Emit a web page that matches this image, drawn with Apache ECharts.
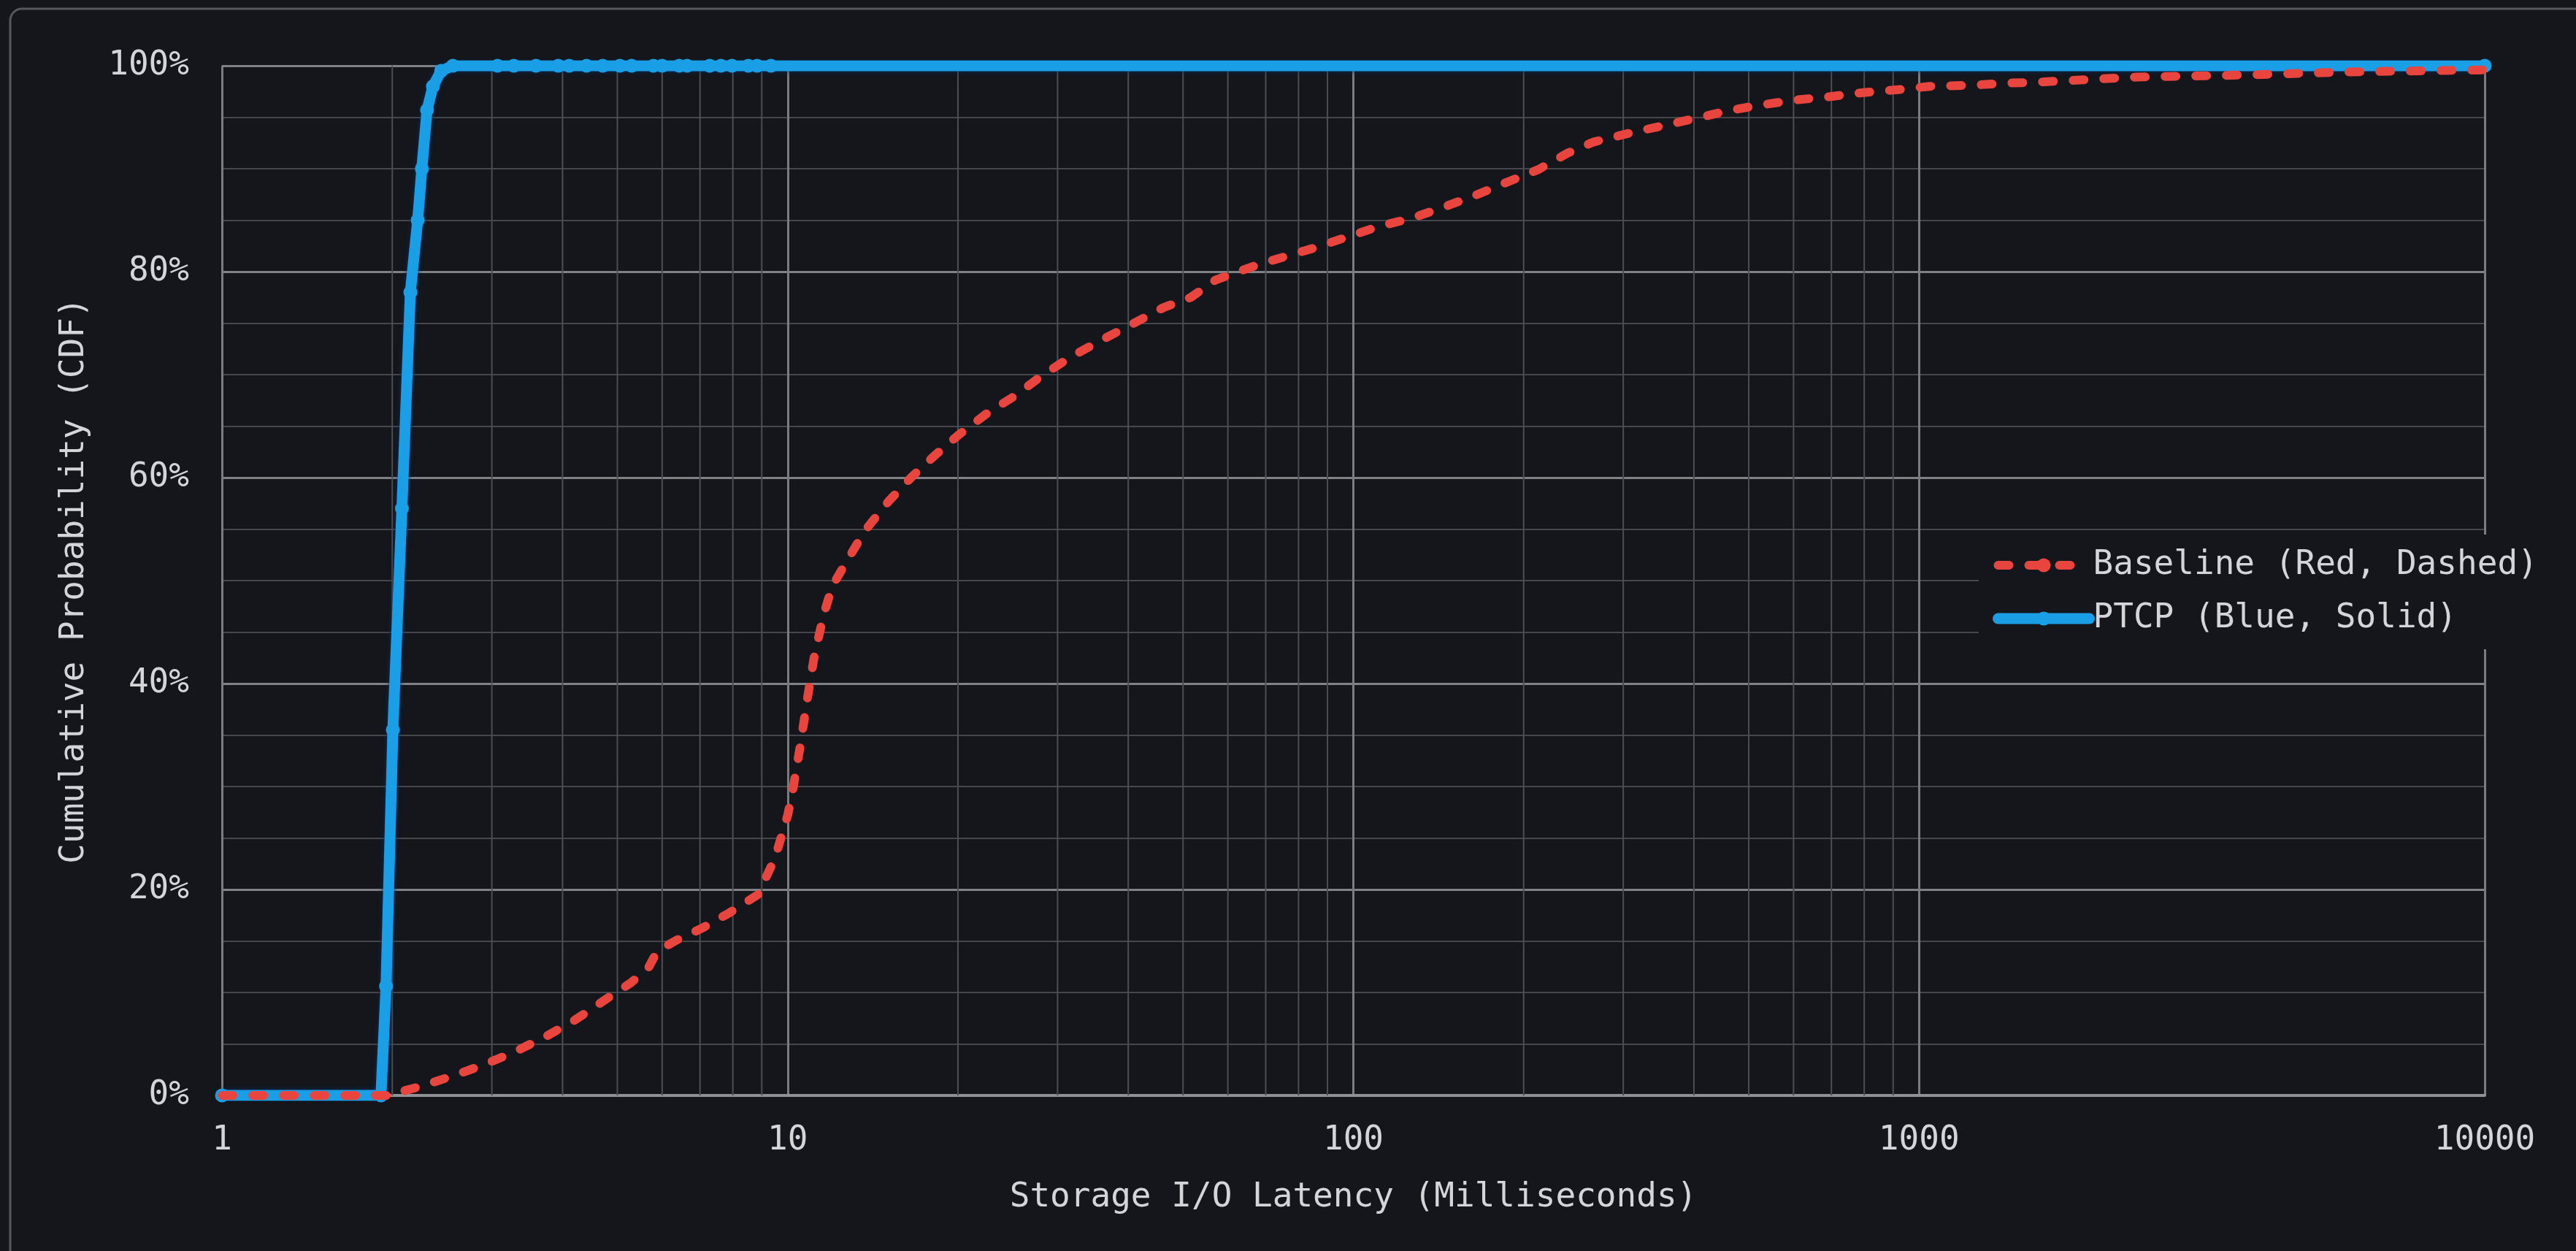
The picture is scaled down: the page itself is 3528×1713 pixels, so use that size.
<!DOCTYPE html>
<html>
<head>
<meta charset="utf-8">
<script src="https://cdn.jsdelivr.net/npm/echarts@6/dist/echarts.min.js"></script>
<style>
html,body{margin:0;padding:0;background:#14161b;}
#chart{width:3528px;height:1713px;}
</style>
</head>
<body>
<div id="chart"></div>
<script>
// ---- data ----
const seriesNames = ['Baseline (Red, Dashed)', 'PTCP (Blue, Solid)'];
const axisNames = ['Storage I/O Latency (Milliseconds)', 'Cumulative Probability (CDF)'];

const baselineLatencyMs = [1, 2.0, 2.02, 2.25, 2.56, 2.91, 3.31, 3.73, 4.2, 4.73,
  5.27, 5.66, 5.88, 6.37, 7.09, 7.87, 8.86, 9.49, 10.0, 10.2,
  10.53, 10.81, 11.14, 11.58, 12.0, 12.85, 13.72, 15.08, 16.59, 18.24,
  20.0, 22.46, 25.15, 28.15, 31.6, 36.0, 40.3, 46.1, 51.6, 57.1,
  67.2, 76, 85.3, 95.5, 111, 127, 145, 164, 189, 212,
  239, 266, 310, 361, 411, 457, 526, 612, 697, 800,
  930, 1045, 1234, 1410, 1613, 2423, 3738, 5771, 10000];
const baselineCdfPct = [0, 0, 0.2, 0.9, 1.9, 3.0, 4.3, 5.7, 7.3, 9.2,
  10.9, 12.3, 14.0, 15.1, 16.3, 17.7, 19.5, 23, 27.2, 29.5,
  34, 38.2, 42.6, 46.7, 49.5, 52.3, 54.9, 57.7, 60.1, 62.2,
  64.1, 66.2, 67.9, 69.9, 71.7, 73.4, 74.8, 76.5, 77.5, 79.2,
  80.6, 81.5, 82.3, 83.2, 84.4, 85.2, 86.3, 87.4, 88.8, 89.9,
  91.5, 92.6, 93.5, 94.3, 95.0, 95.6, 96.2, 96.7, 97.0, 97.4,
  97.7, 98.0, 98.1, 98.3, 98.4, 98.9, 99.1, 99.4, 99.6];

const ptcpLatencyMs = [1, 1.91, 1.95, 2.005, 2.08, 2.153, 2.218, 2.256, 2.304, 2.36,
  2.44, 2.56, 3.07, 3.28, 3.59, 3.93, 4.11, 4.41, 4.71, 5.05,
  5.3, 5.79, 6.0, 6.43, 6.64, 7.28, 7.62, 7.97, 8.52, 8.83,
  9.34, 10000];
const ptcpCdfPct = [0, 0, 10.6, 35.5, 57, 78, 85, 90, 95.7, 98,
  99.5, 100, 100, 100, 100, 100, 100, 100, 100, 100,
  100, 100, 100, 100, 100, 100, 100, 100, 100, 100,
  100, 100];

// minor vertical grid values of the log axis (no minor lines in the last decade)
const minorLatencyGrid = [2, 3, 4, 5, 6, 7, 8, 9, 20, 30, 40, 50, 60, 70, 80, 90,
  200, 300, 400, 500, 600, 700, 800, 900];
const yTickPct = { min: 0, max: 100, interval: 20 };

// ---- build ----
const FONT = 'DejaVu Sans Mono';
const TEXT = '#d4d5d8';
const RED = '#e8453f';
const BLUE = '#1a9fe6';
const pair = (xs, ys) => xs.map((x, i) => [x, ys[i]]);
const minorGridData = [];
minorLatencyGrid.forEach(v => { minorGridData.push([v, yTickPct.min], [v, yTickPct.max], [v, '-']); });

const redLine = { color: RED, width: 12, type: [15, 27], cap: 'round', join: 'round' };
const blueLine = { color: BLUE, width: 15, type: 'solid', cap: 'round', join: 'round',
  shadowColor: 'rgba(0,50,110,0.9)', shadowBlur: 6 };

const chart = echarts.init(document.getElementById('chart'), null, { renderer: 'canvas' });
chart.setOption({
  animation: false,
  backgroundColor: '#14161b',
  graphic: [{
    type: 'rect', silent: true, z: -10,
    shape: { x: 14, y: 12, width: 3700, height: 1900, r: 16 },
    style: { fill: 'none', stroke: '#55585d', lineWidth: 3 }
  }],
  grid: { left: 304, right: 125, top: 90, bottom: 213, containLabel: false, outerBoundsMode: 'none' },
  legend: {
    data: [
      { name: seriesNames[0], lineStyle: { width: 12, type: [15, 27], cap: 'round', color: RED },
        itemStyle: { color: RED } },
      { name: seriesNames[1], lineStyle: { width: 15, type: 'solid', cap: 'round', color: BLUE },
        itemStyle: { color: BLUE } }
    ],
    orient: 'vertical',
    left: 2710, top: 732,
    backgroundColor: '#14161b',
    padding: [19, 22, 19, 19],
    itemWidth: 125, itemHeight: 24, itemGap: 27,
    textStyle: { color: TEXT, fontSize: 46, fontFamily: FONT },
    selectedMode: false
  },
  xAxis: {
    type: 'log', logBase: 10, min: 1, max: 10000,
    name: axisNames[0], nameLocation: 'middle', nameGap: 117,
    nameTextStyle: { color: TEXT, fontSize: 46, fontFamily: FONT },
    axisLine: { show: true, lineStyle: { color: '#8f9195', width: 4 } },
    axisTick: { show: false },
    axisLabel: { color: TEXT, fontSize: 46, fontFamily: FONT, margin: 39,
      formatter: v => String(Math.round(v)) },
    splitLine: { show: true, lineStyle: { color: '#7a7c80', width: 3 } },
    minorSplitLine: { show: false }
  },
  yAxis: {
    type: 'value', min: yTickPct.min, max: yTickPct.max, interval: yTickPct.interval,
    name: axisNames[1], nameLocation: 'middle', nameGap: 179,
    nameTextStyle: { color: TEXT, fontSize: 46, fontFamily: FONT },
    axisLine: { show: false },
    axisTick: { show: false },
    axisLabel: { color: TEXT, fontSize: 46, fontFamily: FONT, margin: 45, formatter: '{value}%' },
    splitLine: { show: true, lineStyle: { color: '#808286', width: 3 } },
    minorTick: { show: false, splitNumber: 4 },
    minorSplitLine: { show: true, lineStyle: { color: '#44474c', width: 2 } }
  },
  series: [
    {
      name: 'minor-grid', type: 'line', silent: true, z: 0,
      data: minorGridData, showSymbol: false, connectNulls: false,
      lineStyle: { color: '#4b4e53', width: 2 },
      tooltip: { show: false }, emphasis: { disabled: true }
    },
    {
      name: seriesNames[1], type: 'line', z: 3,
      data: pair(ptcpLatencyMs, ptcpCdfPct),
      symbol: 'circle', symbolSize: 19, showSymbol: true,
      itemStyle: { color: BLUE },
      lineStyle: blueLine,
      emphasis: { disabled: true }
    },
    {
      name: seriesNames[0], type: 'line', z: 4,
      data: pair(baselineLatencyMs, baselineCdfPct),
      symbol: 'circle', symbolSize: 18, showSymbol: false,
      itemStyle: { color: RED },
      lineStyle: redLine,
      emphasis: { disabled: true }
    }
  ]
});
</script>
</body>
</html>
